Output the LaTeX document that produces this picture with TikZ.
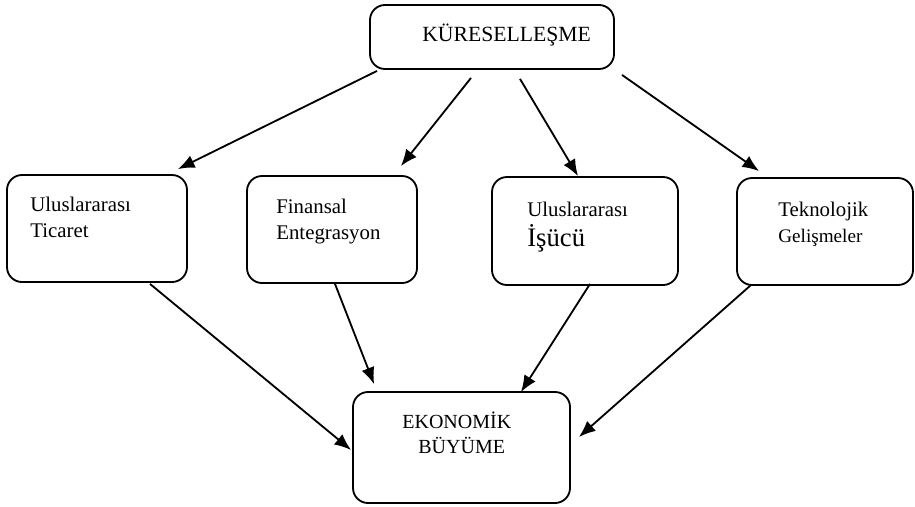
\documentclass[tikz,border=0pt]{standalone}
\usepackage{fontspec}
\setmainfont{Liberation Serif}
\usetikzlibrary{calc,arrows.meta}
\tikzset{
  kutu/.style={draw, line width=1.1pt, rounded corners=9pt, inner sep=0pt},
  yazi/.style={anchor=north west, inner sep=0pt, align=left, font=\fontsize{12.5}{15.6}\selectfont},
  ok/.style={line width=1.1pt, -{Latex[length=10pt,width=8pt]}}
}

\begin{document}
\begin{tikzpicture}[x=0.6pt,y=-0.6pt]
		%%%%% START %%%%%
		\useasboundingbox (0,0) rectangle (915,506);

		% kutular
		\node[kutu, minimum width=244*0.6pt, minimum height=64*0.6pt] (kur) at (492,37) {};
		\node[kutu, minimum width=180*0.6pt, minimum height=107*0.6pt] (tic) at (97,228.5) {};
		\node[kutu, minimum width=170*0.6pt, minimum height=107*0.6pt] (fin) at (332,229.5) {};
		\node[kutu, minimum width=186*0.6pt, minimum height=108*0.6pt] (isc) at (585,231) {};
		\node[kutu, minimum width=176*0.6pt, minimum height=107*0.6pt] (tek) at (825,231.5) {};
		\node[kutu, minimum width=217*0.6pt, minimum height=111*0.6pt] (eko) at (461.5,447.5) {};

		% yazilar
		\node[yazi, font=\fontsize{13}{15.6}\selectfont] (kurT) at (422,24) {KÜRESELLEŞME};
		\node[yazi] (ticT) at (30,197) {Uluslararası\\Ticaret};
		\node[yazi] (finT) at (276,199) {Finansal\\Entegrasyon};
		\node[yazi] (iscT) at (527,202) {Uluslararası\\[2pt]{\fontsize{16}{18}\selectfont İşücü}};
		\node[yazi] (tekT) at (778,202) {Teknolojik\\{\fontsize{11.5}{15}\selectfont Gelişmeler}};
		\node[yazi, font=\fontsize{12}{15}\selectfont] (ekoT) at (402,412) {EKONOMİK\\\hspace*{9.6pt}BÜYÜME};

		% oklar
		\draw[ok] ($(kur.south)+(-115,1)$) -- ($(tic.north east)+(-10,-5)$);
		\draw[ok] ($(kur.south)+(-21,8)$) -- ($(fin.north east)+(-17,-9)$);
		\draw[ok] ($(kur.south)+(28,9)$) -- ($(isc.north)+(-7,0)$);
		\draw[ok] ($(kur.south)+(130,5)$) -- ($(tek.north west)+(23,-6)$);

		\draw[ok] ($(tic.south)+(53,1)$) -- ($(eko.west)+(-1,2.5)$);
		\draw[ok] ($(fin.south)+(3,0)$) -- ($(eko.north west)+(22,-7)$);
		\draw[ok] ($(isc.south)+(5,-2)$) -- ($(eko.north east)+(-50,1)$);
		\draw[ok] ($(tek.south west)+(15,-1)$) -- ($(eko.east)+(8,-10.5)$);
		%%%%% END %%%%%
\end{tikzpicture}
\end{document}
